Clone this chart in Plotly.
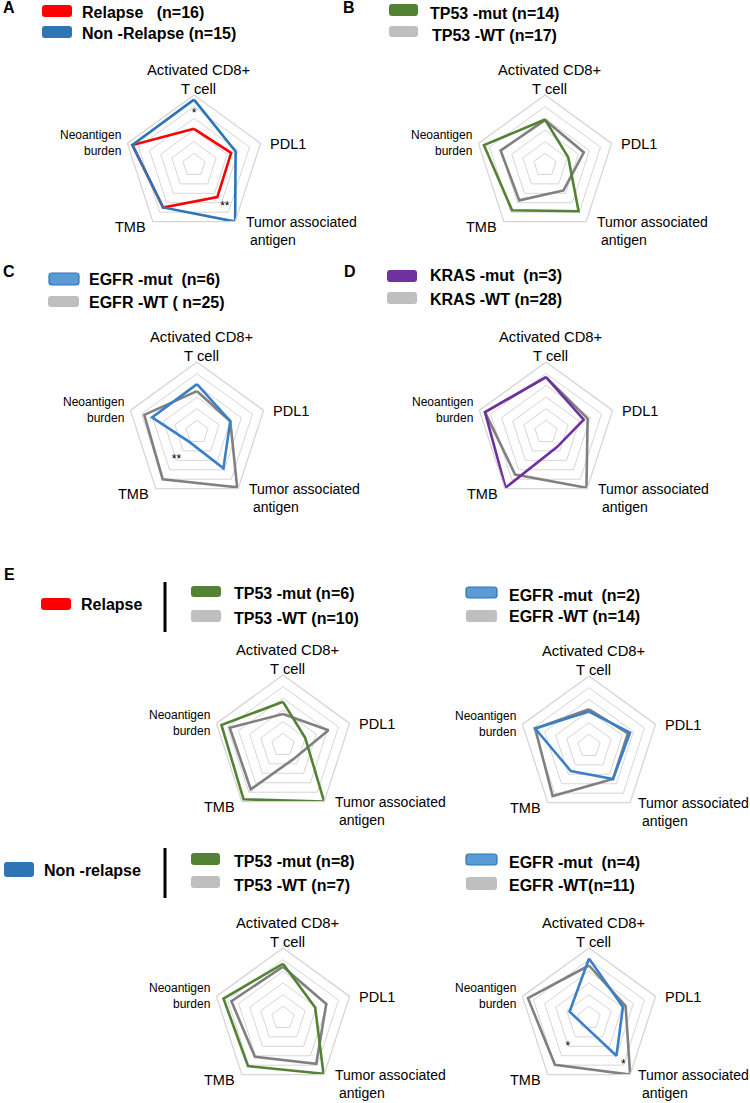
import plotly.graph_objects as go

W, H = 750, 1103

# ---------------- data ----------------
axes_cats = ["Activated CD8+ T cell", "PDL1", "Tumor associated antigen", "TMB", "Neoantigen burden"]

A_relapse = [3.1, 3.35, 3.4, 4.5, 5.55]
A_nonrelapse = [5.6, 3.75, 6.0, 4.5, 5.55]
B_tp53_mut = [3.9, 2.1, 4.9, 4.8, 5.5]
B_tp53_wt = [3.85, 3.5, 2.7, 3.75, 4.0]
C_egfr_mut = [4.1, 3.0, 3.85, 1.07, 4.05]
C_egfr_wt = [3.5, 3.0, 5.85, 5.0, 4.75]
D_kras_mut = [4.7, 3.4, 1.6, 5.9, 5.5]
D_kras_wt = [4.7, 3.75, 5.9, 4.5, 5.5]
E_rel_tp53_mut = [3.7, 2.0, 6.0, 5.75, 5.55]
E_rel_tp53_wt = [2.65, 4.1, 1.5, 4.7, 4.8]
E_rel_egfr_mut = [2.95, 3.7, 3.5, 2.65, 4.85]
E_rel_egfr_wt = [3.15, 3.5, 3.5, 5.3, 4.85]
E_non_tp53_mut = [4.65, 2.9, 5.9, 5.1, 5.36]
E_non_tp53_wt = [4.4, 3.9, 4.85, 4.1, 4.65]
E_non_egfr_mut = [5.1, 3.06, 4.0, 0.75, 1.75]
E_non_egfr_wt = [4.5, 3.3, 6.0, 4.96, 5.5]

# significance marks: (panel index, axis category, radius, text)
sig_marks = [
    (0, "Activated CD8+ T cell", 4.4, "*"),
    (0, "Tumor associated antigen", 4.5, "**"),
    (2, "TMB", 3.0, "**"),
    (7, "TMB", 3.1, "*"),
    (7, "Tumor associated antigen", 5.0, "*"),
]

# ---------------- styles ----------------
RED = "#ff0000"
BLUE = "#2e75b6"
BLUE_L = "#3b80c6"
GREEN = "#548235"
GRAY = "#808080"
GRAY_SW = "#bfbfbf"
PURPLE = "#7030a0"
GRID = "#d6d6d6"
FONT = "Arial, Liberation Sans, sans-serif"

R = 70
panels = [
    dict(c=(194, 165), s=[(A_relapse, RED), (A_nonrelapse, BLUE)]),
    dict(c=(545, 165), s=[(B_tp53_wt, GRAY), (B_tp53_mut, GREEN)]),
    dict(c=(197, 432), s=[(C_egfr_wt, GRAY), (C_egfr_mut, BLUE_L)]),
    dict(c=(546, 432), s=[(D_kras_wt, GRAY), (D_kras_mut, PURPLE)]),
    dict(c=(283, 745), s=[(E_rel_tp53_wt, GRAY), (E_rel_tp53_mut, GREEN)]),
    dict(c=(589, 746), s=[(E_rel_egfr_wt, GRAY), (E_rel_egfr_mut, BLUE_L)]),
    dict(c=(283, 1018), s=[(E_non_tp53_wt, GRAY), (E_non_tp53_mut, GREEN)]),
    dict(c=(589, 1018), s=[(E_non_egfr_wt, GRAY), (E_non_egfr_mut, BLUE_L)]),
]


def px(x):
    return x / W


def py(y):
    return 1 - y / H


fig = go.Figure()
layout = dict(
    width=W, height=H, margin=dict(l=0, r=0, t=0, b=0),
    paper_bgcolor="white", plot_bgcolor="white", showlegend=False,
    font=dict(family=FONT, color="black"),
)
annotations = []
shapes = []

for i, p in enumerate(panels):
    name = "polar" if i == 0 else f"polar{i+1}"
    cx, cy = p["c"]
    layout[name] = dict(
        domain=dict(x=[px(cx - R), px(cx + R)], y=[py(cy + R), py(cy - R)]),
        bgcolor="white",
        gridshape="linear",
        radialaxis=dict(range=[0, 6], tickvals=[1, 2, 3, 4, 5, 6], showticklabels=False,
                        ticks="", showline=False, gridcolor=GRID, gridwidth=1.3),
        angularaxis=dict(type="category", categoryarray=axes_cats, rotation=90,
                         direction="clockwise", showline=True, linecolor=GRID, linewidth=1.3,
                         showgrid=False, showticklabels=False, ticks=""),
    )
    for vals, col in p["s"]:
        fig.add_trace(go.Scatterpolar(
            r=list(vals) + [vals[0]], theta=axes_cats + [axes_cats[0]],
            mode="lines", line=dict(color=col, width=2.6), subplot=name,
            hoverinfo="skip"))
    taa_dx = 47 if cx > 560 and cy > 600 else 50
    annotations += [
        dict(x=px(cx + 4), y=py(cy - 86), text="Activated CD8+<br>T cell", showarrow=False,
             xanchor="center", yanchor="middle", font=dict(size=14.8)),
        dict(x=px(cx + 74), y=py(cy - 21), text="PDL1", showarrow=False,
             xanchor="left", yanchor="middle", font=dict(size=14.5)),
        dict(x=px(cx + taa_dx), y=py(cy + 66), text="Tumor associated<br> antigen", showarrow=False,
             xanchor="left", yanchor="middle", align="left", font=dict(size=14)),
        dict(x=px(cx - 46), y=py(cy + 62), text="TMB", showarrow=False,
             xanchor="right", yanchor="middle", font=dict(size=14.5)),
        dict(x=px(cx - 71), y=py(cy - 22), text="Neoantigen<br>burden", showarrow=False,
             xanchor="right", yanchor="middle", align="right", font=dict(size=12)),
    ]

for (pi, cat, rr, txt) in sig_marks:
    sub = "polar" if pi == 0 else f"polar{pi+1}"
    fig.add_trace(go.Scatterpolar(r=[rr], theta=[cat], mode="text", text=[txt],
                                  textfont=dict(size=12, color="black"), subplot=sub,
                                  hoverinfo="skip"))

# panel letters
for letter, x, y in [("A", 1, 8), ("B", 341, 8), ("C", 1, 272), ("D", 342, 272), ("E", 2, 575)]:
    annotations.append(dict(x=px(x), y=py(y), text=f"<b>{letter}</b>", showarrow=False,
                            xanchor="left", yanchor="middle", font=dict(size=16)))


def rrect(x0, y0, x1, y1, fill, line=None):
    r = 3
    X = lambda v: px(v)
    Y = lambda v: py(v)
    pts = (f"M {X(x0+r)},{Y(y0)} L {X(x1-r)},{Y(y0)} Q {X(x1)},{Y(y0)} {X(x1)},{Y(y0+r)} "
           f"L {X(x1)},{Y(y1-r)} Q {X(x1)},{Y(y1)} {X(x1-r)},{Y(y1)} L {X(x0+r)},{Y(y1)} "
           f"Q {X(x0)},{Y(y1)} {X(x0)},{Y(y1-r)} L {X(x0)},{Y(y0+r)} Q {X(x0)},{Y(y0)} {X(x0+r)},{Y(y0)} Z")
    return dict(type="path", xref="paper", yref="paper", path=pts, fillcolor=fill,
                line=dict(color=line if line else fill, width=1.2 if line else 0))


legend_items = [
    ((42, 5, 72, 17), RED, None, "Relapse   (n=16)", 80, 12.5),
    ((42, 26, 72, 38), BLUE, None, "Non -Relapse (n=15)", 80, 33),
    ((389, 4, 418, 16), GREEN, None, "TP53 -mut (n=14)", 428, 13),
    ((389, 26, 418, 37), GRAY_SW, None, "TP53 -WT (n=17)", 430, 35),
    ((49, 273, 79, 285), "#5b9bd5", BLUE, "EGFR -mut  (n=6)", 87, 279.5),
    ((48, 296, 79, 307), GRAY_SW, None, "EGFR -WT ( n=25)", 87, 302.5),
    ((387, 270, 417, 282), PURPLE, None, "KRAS -mut  (n=3)", 428, 276),
    ((387, 292, 417, 304), GRAY_SW, None, "KRAS -WT (n=28)", 428, 299.5),
    ((41, 598, 71, 610), RED, None, "Relapse", 79, 604.5),
    ((191, 586, 221, 597), GREEN, None, "TP53 -mut (n=6)", 232, 593.5),
    ((191, 610, 221, 622), GRAY_SW, None, "TP53 -WT (n=10)", 232, 618.5),
    ((466, 587, 497, 598), "#5b9bd5", BLUE, "EGFR -mut  (n=2)", 507, 595),
    ((466, 610, 497, 622), GRAY_SW, None, "EGFR -WT (n=14)", 507, 616.5),
    ((4, 862, 34, 877), BLUE, None, "Non -relapse", 42, 870.5),
    ((191, 853, 220, 865), GREEN, None, "TP53 -mut (n=8)", 232, 861),
    ((191, 876, 220, 888), GRAY_SW, None, "TP53 -WT (n=7)", 232, 885),
    ((466, 854, 497, 865), "#5b9bd5", BLUE, "EGFR -mut  (n=4)", 507, 862.5),
    ((466, 877, 497, 890), GRAY_SW, None, "EGFR -WT(n=11)", 507, 885),
]
for (x0, y0, x1, y1), fill, border, txt, tx, ty in legend_items:
    shapes.append(rrect(x0, y0, x1, y1, fill, border))
    annotations.append(dict(x=px(tx), y=py(ty), text=f"<b>{txt.replace(' ', '&nbsp;')}</b>",
                            showarrow=False, xanchor="left", yanchor="middle",
                            font=dict(size=16)))

# vertical separators in E
for y0, y1 in [(582, 632), (848, 898)]:
    shapes.append(dict(type="line", xref="paper", yref="paper", x0=px(165), x1=px(165),
                       y0=py(y0), y1=py(y1), line=dict(color="black", width=3)))

layout["annotations"] = annotations
layout["shapes"] = shapes
fig.update_layout(**layout)
fig.write_html("out.html", config={"displayModeBar": False},
               post_script="document.body.style.margin='0px';")
